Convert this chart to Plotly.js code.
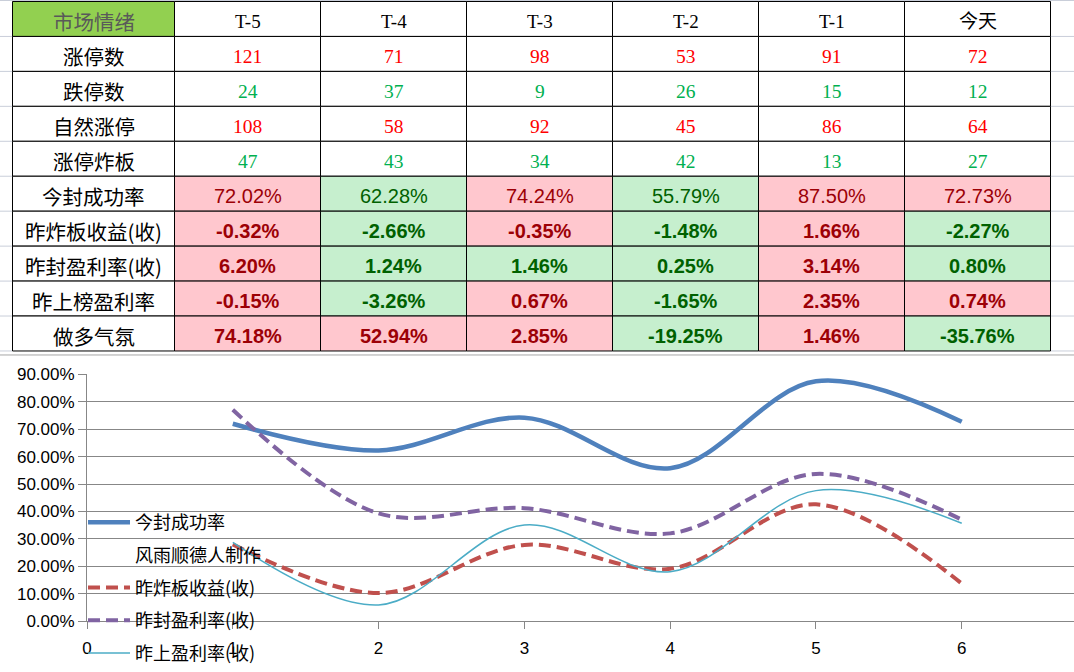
<!DOCTYPE html>
<html><head><meta charset="utf-8">
<script src="https://cdn.plot.ly/plotly-3.0.1.min.js"></script>
<style>html,body{margin:0;padding:0;background:#fff}#chart{width:1074px;height:672px}</style>
</head><body><div id="chart"></div>
<script>
// ---------- data ----------
const headerTitle = '市场情绪';
const dates = ['T-5', 'T-4', 'T-3', 'T-2', 'T-1', '今天'];
const rowLabels = ['涨停数', '跌停数', '自然涨停', '涨停炸板', '今封成功率', '昨炸板收益(收)', '昨封盈利率(收)', '昨上榜盈利率', '做多气氛'];
const limitUp    = [121, 71, 98, 53, 91, 72];
const limitDown  = [24, 37, 9, 26, 15, 12];
const naturalUp  = [108, 58, 92, 45, 86, 64];
const brokenUp   = [47, 43, 34, 42, 13, 27];
const sealRate   = [72.02, 62.28, 74.24, 55.79, 87.50, 72.73];
const brokenRet  = [-0.32, -2.66, -0.35, -1.48, 1.66, -2.27];
const sealProfit = [6.20, 1.24, 1.46, 0.25, 3.14, 0.80];
const listProfit = [-0.15, -3.26, 0.67, -1.65, 2.35, 0.74];
const bullMood   = [74.18, 52.94, 2.85, -19.25, 1.46, -35.76];

// chart series (percent)
const seriesNames = ['今封成功率', '风雨顺德人制作', '昨炸板收益(收)', '昨封盈利率(收)', '昨上盈利率(收)'];
const lineBrokenRet  = [28.0, 10.2, 27.8, 19.1, 42.6, 13.7];
const lineSealProfit = [77.1, 39.3, 41.2, 32.0, 53.7, 37.0];
const lineListProfit = [28.7, 5.9, 35.1, 18.0, 47.6, 35.7];
const lineWatermark  = [null, null, null, null, null, null];
const xTicks = [0, 1, 2, 3, 4, 5, 6];

// ---------- helpers ----------
const W = 1074, H = 672;
const px = x => x / W, py = y => 1 - y / H;
const SERIF = 'Liberation Serif, Noto Sans CJK SC, serif';
const SANS = 'Liberation Sans, Arial, sans-serif';
const CJK = 'Noto Sans CJK SC, sans-serif';
const HOT_FILL = '#ffc7ce', HOT_TXT = '#9c0006', COOL_FILL = '#c6efce', COOL_TXT = '#006100';

// ---------- table (shapes + annotations) ----------
const colEdges = [12, 174, 320, 466, 612, 758, 904, 1050];
const rowTop = 1, rowH = 35, textDrop = 2.5;
const countRows = [limitUp, limitDown, naturalUp, brokenUp];
const countColors = ['#ff0000', '#00b050', '#ff0000', '#00b050'];
const pctRows = [sealRate, brokenRet, sealProfit, listProfit, bullMood];
const pctThreshold = [70, -1, 2, -1, 0];
const pctBold = [false, true, true, true, true];

const shapes = [];
const annotations = [];
function cell(col, row, text, fill, color, family, size) {
  const x0 = colEdges[col] + 0.5, x1 = colEdges[col + 1] + 0.5;
  const y0 = rowTop + row * rowH + 0.5, y1 = y0 + rowH;
  shapes.push({ type: 'rect', xref: 'paper', yref: 'paper', layer: 'below',
    x0: px(x0), x1: px(x1), y0: py(y0), y1: py(y1),
    fillcolor: fill, line: { color: '#000000', width: 1 } });
  annotations.push({ xref: 'paper', yref: 'paper', x: px((x0 + x1) / 2), y: py((y0 + y1) / 2 + textDrop),
    xanchor: 'center', yanchor: 'middle', showarrow: false, text: text,
    font: { family: family, size: size, color: color } });
}
// header
cell(0, 0, headerTitle, '#92d050', '#595959', CJK, 20.5);
dates.forEach((d, c) => cell(c + 1, 0, d, '#ffffff', '#000000', SERIF, 19));
// row labels
rowLabels.forEach((lab, r) => cell(0, r + 1, lab, '#ffffff', '#000000', CJK, 20.5));
// counts
countRows.forEach((arr, k) => arr.forEach((v, c) => cell(c + 1, k + 1, String(v), '#ffffff', countColors[k], SERIF, 19.5)));
// percentages
pctRows.forEach((arr, k) => arr.forEach((v, c) => {
  const hot = k === 0 ? v >= pctThreshold[k] : v > pctThreshold[k];
  const s = v.toFixed(2) + '%';
  cell(c + 1, k + 1 + countRows.length, pctBold[k] ? '<b>' + s + '</b>' : s,
    hot ? HOT_FILL : COOL_FILL, hot ? HOT_TXT : COOL_TXT, SANS, 20);
}));

// spreadsheet gridlines outside the table
const lightGrid = '#c9ced9';
shapes.push({ type: 'line', xref: 'paper', yref: 'paper', layer: 'below', x0: 0, x1: 1, y0: py(0.5), y1: py(0.5), line: { color: lightGrid, width: 1 } });
for (let r = 1; r <= 10; r++) {
  const y = rowTop + r * rowH + 0.5;
  shapes.push({ type: 'line', xref: 'paper', yref: 'paper', layer: 'below', x0: 0, x1: px(12), y0: py(y), y1: py(y), line: { color: lightGrid, width: 1 } });
  shapes.push({ type: 'line', xref: 'paper', yref: 'paper', layer: 'below', x0: px(1051), x1: 1, y0: py(y), y1: py(y), line: { color: lightGrid, width: 1 } });
}
shapes.push({ type: 'line', xref: 'paper', yref: 'paper', layer: 'below', x0: 0, x1: 1, y0: py(355.5), y1: py(355.5), line: { color: '#a6a6a6', width: 1 } });

// ---------- chart ----------
const xs = dates.map((_, i) => i + 1);
const lineTraces = [
  { name: seriesNames[0], y: sealRate, line: { color: '#4f81bd', width: 4.5, shape: 'spline', smoothing: 1 } },
  { name: seriesNames[1], y: lineWatermark, mode: 'none' },
  { name: seriesNames[2], y: lineBrokenRet, line: { color: '#c0504d', width: 4, dash: '12px,6px', shape: 'spline', smoothing: 1 } },
  { name: seriesNames[3], y: lineSealProfit, line: { color: '#8064a2', width: 4, dash: '12px,6px', shape: 'spline', smoothing: 1 } },
  { name: seriesNames[4], y: lineListProfit, line: { color: '#4bacc6', width: 1.5, shape: 'spline', smoothing: 1 } }
].map((t, i) => Object.assign({ type: 'scatter', mode: 'lines', x: xs, legendgroup: 'g' + i, hoverinfo: 'skip' }, t));

const grid = '#878787';
const layout = {
  width: W, height: H,
  margin: { l: 0, r: 0, t: 0, b: 0 },
  paper_bgcolor: '#ffffff', plot_bgcolor: '#ffffff',
  showlegend: true,
  legend: {
    x: px(83), xanchor: 'left', y: py(505), yanchor: 'top',
    bgcolor: 'rgba(0,0,0,0)', borderwidth: 0,
    traceorder: 'grouped', tracegroupgap: 6.3, itemwidth: 42,
    font: { family: CJK, size: 18, color: '#000000' }
  },
  xaxis: {
    domain: [px(87), 1], range: [0, 6.77],
    tickvals: xTicks, ticktext: xTicks.map(String),
    ticks: 'outside', ticklen: 7, tickcolor: grid, tickwidth: 1, ticklabelstandoff: 5,
    showline: true, linecolor: grid, linewidth: 1,
    showgrid: false, zeroline: false,
    tickfont: { family: SANS, size: 17, color: '#000000' }
  },
  yaxis: {
    domain: [py(622), py(375)], range: [0, 90], dtick: 10, tick0: 0,
    tickformat: '.2f', ticksuffix: '%',
    ticks: 'outside', ticklen: 8, tickcolor: grid, tickwidth: 1,
    showline: true, linecolor: grid, linewidth: 1,
    showgrid: true, gridcolor: grid, gridwidth: 1, zeroline: false,
    tickfont: { family: SANS, size: 17, color: '#000000' }
  },
  shapes: shapes,
  annotations: annotations
};

Plotly.newPlot('chart', lineTraces, layout, { displayModeBar: false, staticPlot: true });
</script></body></html>
